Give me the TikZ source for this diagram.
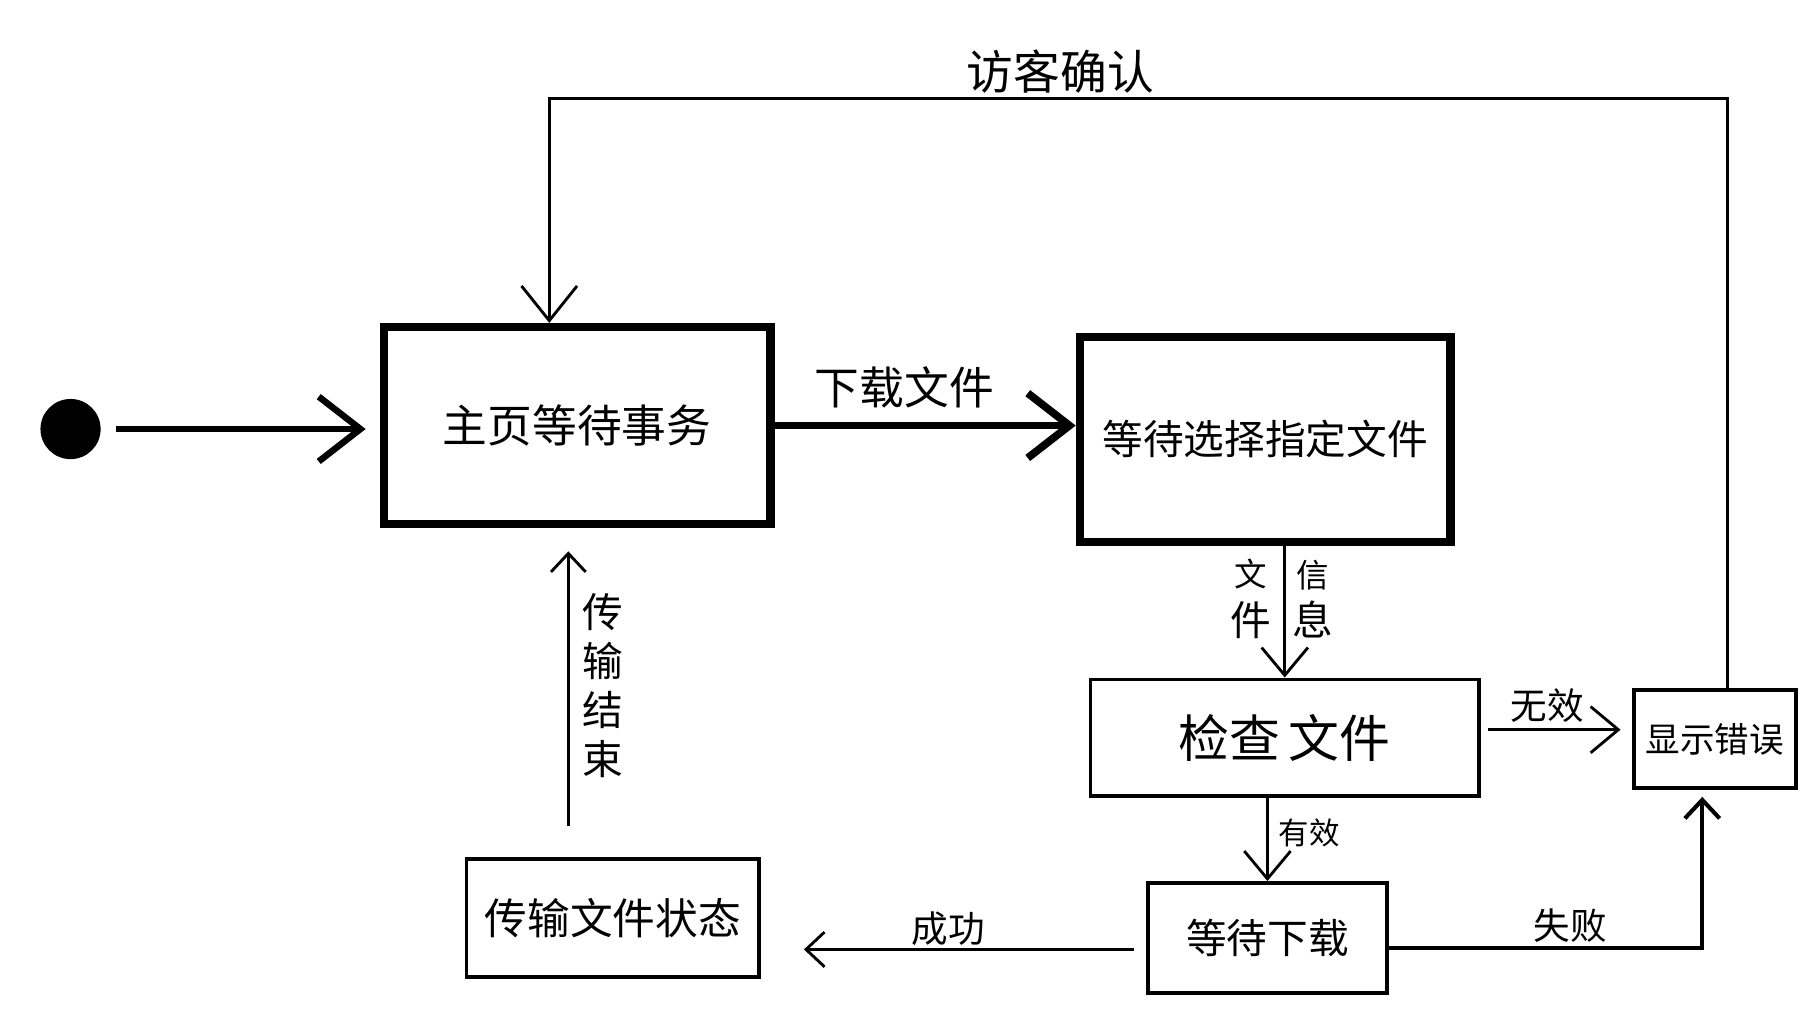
\documentclass[tikz,border=0pt]{standalone}
\usepackage{fontspec}
\newfontfamily\cjk{Noto Sans CJK SC}
\usetikzlibrary{arrows.meta, positioning}
\tikzset{
  statebox/.style={draw, line width=0.9pt, inner sep=0pt, font=\cjk},
  heavybox/.style={statebox, line width=2.1pt},
  thinarr/.style={-{Straight Barb[length=0.24cm,width=0.4cm]}, line width=0.7pt},
  smallarr/.style={-{Straight Barb[length=0.16cm,width=0.3cm]}, line width=0.7pt},
  heavyarr/.style={-{Straight Barb[length=0.36cm,width=0.56cm]}, line width=1.6pt},
  lbl/.style={inner sep=0pt, font=\cjk},
  vlbl/.style={lbl, align=center}
}
\begin{document}
\begin{tikzpicture}[x=0.01cm,y=-0.01cm]
\useasboundingbox (0,0) rectangle (1560,875);
% states
\node[circle, fill=black, minimum size=0.52cm, inner sep=0pt] (start) at (61,371) {};
\node[heavybox, minimum width=3.34cm, minimum height=1.70cm] (home) at (499,368) {\fontsize{11}{13}\selectfont 主页等待事务};
\node[heavybox, minimum width=3.2cm, minimum height=1.77cm] (choose) at (1094,380) {\fontsize{10}{12}\selectfont 等待选择指定文件};
\node[statebox, minimum width=3.36cm, minimum height=1.01cm] (check) at (1111,638) {\fontsize{12.5}{14}\selectfont 检查\,文件};
\node[statebox, minimum width=1.4cm, minimum height=0.85cm] (err) at (1483,639) {\fontsize{8.5}{10}\selectfont 显示错误};
\node[statebox, minimum width=2.07cm, minimum height=0.95cm] (wait) at (1096,811) {\fontsize{10}{12}\selectfont 等待下载};
\node[statebox, minimum width=2.53cm, minimum height=1.02cm] (trans) at (530,794) {\fontsize{10.5}{12}\selectfont 传输文件状态};
\coordinate (ceil) at (0,85);
% connectors
\draw[heavyarr, shorten <=0.13cm, shorten >=0.12cm] (start) -- (home.west |- start);
\draw[heavyarr, line width=1.9pt] (home.east) -- (home.east -| choose.west);
\draw[thinarr] (choose.south -| check.north) -- (check.north);
\draw[thinarr] (check.south -| wait.north) -- (wait.north);
\draw[thinarr, shorten <=0.06cm, shorten >=0.1cm] ([yshift=0.07cm]check.east) -- ([yshift=0.07cm]check.east -| err.west);
\draw[smallarr, shorten <=0.1cm, shorten >=0.37cm] ([yshift=-0.1cm]wait.west) -- ([yshift=-0.1cm]wait.west -| trans.east);
\draw[smallarr, line width=1pt, shorten >=0.06cm] ([yshift=-0.09cm]wait.east) -| ([xshift=-0.11cm]err.south);
\draw[smallarr, shorten <=0.27cm, shorten >=0.2cm] ([xshift=-0.385cm]trans.north) -- ([xshift=-0.385cm]trans.north |- home.south);
\draw[thinarr, -{Straight Barb[length=0.3cm,width=0.48cm]}] ([xshift=0.11cm]err.north) |- ([xshift=-0.24cm]home.north |- ceil) -- ([xshift=-0.24cm]home.north);
% labels
\node[lbl] (lblLoad) at (782,335) {\fontsize{11}{13}\selectfont 下载文件};
\node[lbl] (lblGuest) at (917,62) {\fontsize{11.5}{13}\selectfont 访客确认};
\node[vlbl] (lblFile) at (1082,518) {\fontsize{8}{11}\selectfont 文\\件};
\node[vlbl] (lblInfo) at (1135,518) {\fontsize{8}{11}\selectfont 信\\息};
\node[lbl] (lblBad) at (1338,610) {\fontsize{9}{10}\selectfont 无效};
\node[lbl] (lblGood) at (1132,720) {\fontsize{7.5}{9}\selectfont 有效};
\node[lbl] (lblOk) at (820,803) {\fontsize{9}{10}\selectfont 成功};
\node[lbl] (lblFail) at (1358,800) {\fontsize{9}{10}\selectfont 失败};
\node[vlbl] (lblEnd) at (521,593) {\fontsize{10}{12.8}\selectfont 传\\输\\结\\束};
\end{tikzpicture}
\end{document}
